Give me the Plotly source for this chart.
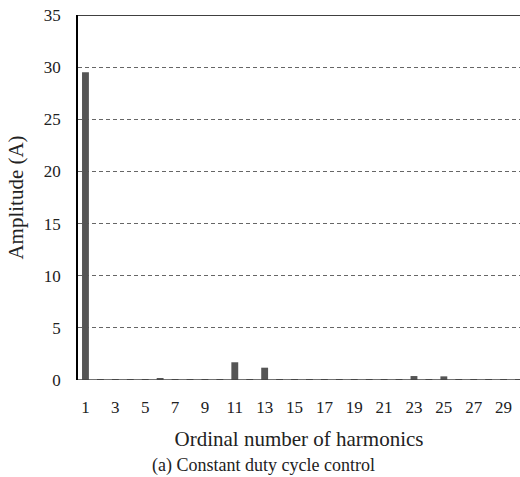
import plotly.graph_objects as go

# Harmonic spectrum of the line current
harmonic_order = list(range(1, 31))
amplitude = [29.5, 0.02, 0.02, 0.02, 0.02, 0.18, 0.02, 0.02, 0.02, 0.02,
             1.7, 0.02, 1.18, 0.02, 0.02, 0.02, 0.02, 0.02, 0.02, 0.02,
             0.02, 0.02, 0.38, 0.02, 0.35, 0.02, 0.02, 0.02, 0.02, 0.02]
x_ticks = list(range(1, 30, 2))
y_ticks = [0, 5, 10, 15, 20, 25, 30, 35]

serif = "Liberation Serif, Tinos, Times New Roman, DejaVu Serif, Noto Serif, serif"

fig = go.Figure(go.Bar(
    x=harmonic_order,
    y=amplitude,
    width=0.46,
    marker=dict(color="#555555", line=dict(width=0)),
))

fig.update_layout(
    width=520, height=477,
    margin=dict(l=78, r=0, t=15, b=97),
    paper_bgcolor="white",
    plot_bgcolor="white",
    showlegend=False,
    font=dict(family=serif, color="#222222"),
    xaxis=dict(
        range=[0.5, 30.1],
        tickvals=x_ticks,
        ticktext=[str(v) for v in x_ticks],
        tickfont=dict(size=17, family=serif),
        ticklabelstandoff=15,
        showgrid=False,
        zeroline=False,
        showline=False,
        ticks="",
        title=dict(text="Ordinal number of harmonics",
                   font=dict(size=21, family=serif), standoff=15),
    ),
    yaxis=dict(
        range=[0, 35],
        tickvals=y_ticks,
        tickfont=dict(size=17, family=serif),
        ticklabelstandoff=12,
        showgrid=True,
        gridcolor="#666666",
        griddash="4px,3px",
        gridwidth=1,
        zeroline=False,
        showline=True,
        linecolor="black",
        linewidth=1.5,
        ticks="",
        ticklen=0,
        title=dict(text="Amplitude (A)", font=dict(size=21, family=serif), standoff=14),
    ),
    shapes=[
        dict(type="line", xref="paper", yref="y", x0=0, x1=1, y0=35, y1=35,
             line=dict(color="black", width=1.5)),
        dict(type="line", xref="paper", yref="y", x0=0, x1=1, y0=0, y1=0,
             line=dict(color="#444444", width=1.5)),
    ],
    annotations=[
        dict(text="(a) Constant duty cycle control", xref="paper", yref="paper",
             x=0.42, y=-0.233, xanchor="center", yanchor="middle", showarrow=False,
             font=dict(size=18, family=serif, color="#222222")),
    ],
)

fig.write_html("out.html")
